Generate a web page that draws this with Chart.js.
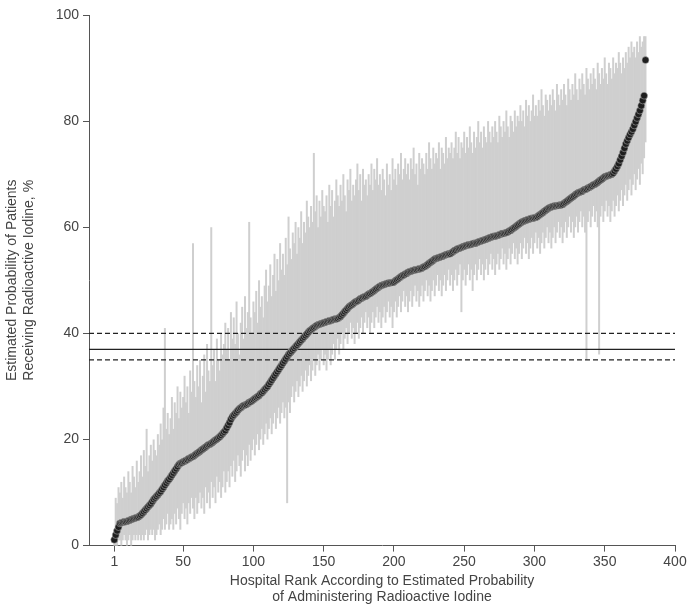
<!DOCTYPE html>
<html>
<head>
<meta charset="utf-8">
<script src="https://cdn.jsdelivr.net/npm/chart.js@4"></script>
<style>
  html, body { margin: 0; padding: 0; background: #fff; }
  #wrap { width: 691px; height: 612px; }
</style>
</head>
<body>
<div id="wrap"><canvas id="cv"></canvas></div>
<script>
'use strict';

// point estimates, hospital rank 1..379
var estimate = [
  1.1,2,2.8,3.5,4.2,4.3,4.4,4.5,4.5,4.6,
  4.7,4.8,4.9,5,5.1,5.2,5.3,5.4,5.6,5.8,
  6.1,6.4,6.7,7,7.3,7.6,7.9,8.3,8.7,9,
  9.3,9.6,9.9,10.2,10.6,11,11.4,11.8,12.2,12.5,
  12.9,13.3,13.7,14.1,14.5,14.9,15.3,15.5,15.6,15.8,
  15.9,16.1,16.2,16.4,16.5,16.7,16.8,17,17.2,17.4,
  17.6,17.8,18,18.2,18.4,18.6,18.8,19,19.1,19.3,
  19.5,19.7,19.9,20.1,20.3,20.5,20.8,21.1,21.4,21.7,
  22.2,22.7,23.2,23.8,24.3,24.6,24.9,25.2,25.5,25.8,
  26,26.2,26.4,26.5,26.6,26.8,27,27.1,27.3,27.5,
  27.7,27.9,28.1,28.3,28.6,28.8,29.1,29.4,29.7,30,
  30.4,30.8,31.2,31.6,32,32.4,32.8,33.2,33.6,34,
  34.4,34.8,35.2,35.6,36,36.3,36.6,36.9,37.2,37.5,
  37.8,38.1,38.4,38.7,39,39.3,39.6,39.9,40.2,40.5,
  40.7,40.9,41.1,41.3,41.5,41.6,41.7,41.8,41.9,42,
  42.1,42.2,42.3,42.4,42.4,42.5,42.6,42.7,42.7,42.8,
  43,43.2,43.5,43.8,44.1,44.4,44.7,45,45.2,45.4,
  45.6,45.8,46,46.1,46.3,46.5,46.6,46.8,46.9,47,
  47.2,47.4,47.5,47.7,47.9,48.1,48.3,48.5,48.7,48.9,
  49,49.1,49.2,49.3,49.4,49.5,49.5,49.6,49.6,49.7,
  49.9,50.1,50.3,50.5,50.7,50.9,51,51.2,51.3,51.5,
  51.6,51.7,51.8,51.9,52,52,52.1,52.2,52.2,52.3,
  52.5,52.6,52.8,53,53.2,53.4,53.6,53.8,54,54.1,
  54.2,54.3,54.4,54.5,54.6,54.7,54.8,54.9,55,55,
  55.2,55.4,55.6,55.7,55.9,56,56.1,56.2,56.3,56.4,
  56.5,56.6,56.7,56.7,56.8,56.9,57,57,57.1,57.2,
  57.3,57.4,57.5,57.6,57.7,57.8,57.9,58,58.1,58.2,
  58.3,58.3,58.4,58.5,58.6,58.7,58.8,58.8,58.9,59,
  59.1,59.3,59.4,59.6,59.8,60,60.2,60.4,60.6,60.8,
  61,61.1,61.2,61.3,61.4,61.5,61.6,61.7,61.7,61.8,
  61.9,62,62.2,62.4,62.6,62.8,63,63.2,63.4,63.6,
  63.7,63.8,63.9,64,64,64.1,64.1,64.2,64.2,64.3,
  64.5,64.7,64.9,65.1,65.3,65.5,65.7,65.9,66.1,66.3,
  66.5,66.6,66.7,66.8,67,67.1,67.2,67.4,67.5,67.7,
  67.8,68,68.1,68.3,68.5,68.7,68.9,69.1,69.3,69.5,
  69.6,69.7,69.8,69.9,70,70.2,70.6,71,71.5,72,
  72.7,73.4,74.1,74.9,75.7,76.3,76.9,77.5,78,78.5,
  79.2,79.9,80.6,81.3,82,82.9,83.9,84.8,91.5
];

var upper = [
  3,9,8,11,10,12,9,13,11,10, 14,12,10,15,13,11,16,12,14,17,
  13,18,15,22,14,17,19,16,20,18, 17,21,19,23,20,26,41,22,25,21,
  24,28,22,27,25,30,24,29,26,28, 32,27,30,25,33,29,57,31,28,34,
  30,35,27,32,36,29,38,33,31,60, 34,37,31,39,35,33,40,36,38,42,
  37,41,35,44,39,43,38,46,40,36, 42,45,39,47,41,44,61,43,40,46,
  44,48,42,50,45,47,43,49,52,46, 49,53,47,51,55,48,54,50,57,52,
  55,51,58,53,62,56,54,59,57,61, 55,60,58,63,57,61,59,65,62,60,
  64,61,74,63,66,60,65,62,67,64, 63,66,61,68,64,67,62,65,69,66,
  64,68,65,70,66,63,69,67,71,65, 68,66,69,72,67,70,65,71,68,69,
  66,70,68,72,67,71,69,73,68,70, 67,71,69,66,72,68,70,67,73,69,
  71,68,72,70,74,69,71,73,70,72, 69,73,71,75,70,72,68,74,71,73,
  72,70,74,71,76,73,71,75,72,74, 73,76,71,75,74,72,77,73,75,74,
  76,73,75,78,74,77,73,76,75,78, 74,77,75,79,76,74,78,75,77,80,
  76,78,75,79,77,76,80,78,76,79, 77,80,78,76,81,79,77,80,78,82,
  79,77,81,80,78,82,79,81,80,83, 80,82,79,84,81,83,80,82,85,81,
  83,81,84,82,86,83,81,85,84,82, 85,83,86,84,82,87,85,83,86,84,
  87,85,83,88,86,84,87,85,89,86, 84,88,86,89,87,85,90,88,86,89,
  87,90,88,86,91,89,87,90,88,92, 89,87,91,90,88,92,89,91,90,93,
  91,89,92,90,93,91,94,92,95,93, 94,92,95,93,96,94,95,96,96
];

var lower = [
  0,0,0,1,1,0,1,2,1,0, 1,2,0,1,2,1,2,1,2,1,
  2,1,2,3,1,2,3,2,3,1, 2,3,4,2,3,5,3,4,6,3,
  4,5,3,6,4,7,5,3,6,8, 5,7,4,8,6,9,7,5,9,6,
  8,10,7,9,6,11,8,10,7,12, 9,11,8,13,10,12,9,11,14,10,
  12,14,11,15,13,16,12,14,17,15, 13,16,18,14,17,15,19,16,18,20,
  17,19,21,18,20,22,19,21,23,20, 22,24,21,23,25,22,24,26,23,25,
  27,24,26,8,27,25,28,30,27,29, 31,28,30,32,29,31,33,30,32,34,
  31,33,35,32,34,36,33,35,37,34, 36,33,35,37,34,36,38,35,37,39,
  36,38,40,37,39,41,38,40,42,39, 41,38,40,42,39,41,43,40,42,44,
  41,43,40,42,44,41,43,45,42,44, 41,43,45,42,44,46,43,45,41,44,
  46,43,45,47,44,46,48,45,47,44, 46,48,45,47,49,46,48,45,47,49,
  46,48,50,47,49,46,48,50,47,49, 51,48,50,47,49,51,48,50,52,49,
  51,48,50,52,49,51,53,44,50,52, 49,51,53,50,52,48,51,53,50,52,
  54,51,53,50,52,54,51,53,55,52, 54,51,53,55,52,54,56,53,55,52,
  54,56,53,55,57,54,56,53,55,57, 54,56,58,55,57,54,56,58,55,57,
  59,56,58,55,57,59,56,58,60,57, 59,56,58,60,57,59,61,58,60,57,
  59,61,58,60,62,59,61,58,60,62, 59,61,63,60,62,59,35,61,63,60,
  62,64,61,63,60,36,62,64,61,63, 65,62,64,61,63,65,62,64,66,63,
  65,67,64,66,68,65,67,69,66,68, 70,67,69,71,68,72,70,73,76
];

var xTicks = [1, 50, 100, 150, 200, 250, 300, 350, 400];
var refLine = 37;
var refBand = [35, 40];

var points = estimate.map(function (v, i) { return { x: i + 1, y: v }; });

// gray interval bars + reference lines drawn through the chart scales
var intervalPlugin = {
  id: 'intervals',
  beforeDatasetsDraw: function (chart) {
    var ctx = chart.ctx, xs = chart.scales.x, ys = chart.scales.y, a = chart.chartArea;
    ctx.save();
    ctx.strokeStyle = '#cfcfcf';
    ctx.lineWidth = 2;
    for (var i = 0; i < estimate.length; i++) {
      var px = xs.getPixelForValue(i + 1);
      ctx.beginPath();
      ctx.moveTo(px, ys.getPixelForValue(lower[i]));
      ctx.lineTo(px, ys.getPixelForValue(upper[i]));
      ctx.stroke();
    }
    ctx.strokeStyle = '#222';
    ctx.lineWidth = 1.2;
    var y0 = ys.getPixelForValue(refLine);
    ctx.beginPath(); ctx.moveTo(a.left, y0); ctx.lineTo(a.right, y0); ctx.stroke();
    ctx.setLineDash([5, 3]);
    refBand.forEach(function (v) {
      var y = ys.getPixelForValue(v);
      ctx.beginPath(); ctx.moveTo(a.left, y); ctx.lineTo(a.right, y); ctx.stroke();
    });
    ctx.restore();
  }
};

var tickFont = { family: 'Helvetica, Arial, "Liberation Sans", sans-serif', size: 14 };

new Chart(document.getElementById('cv'), {
  type: 'scatter',
  data: {
    datasets: [{
      data: points,
      pointRadius: 3.5,
      pointBackgroundColor: '#1e1e1e',
      pointBorderColor: '#bbbbbb',
      pointBorderWidth: 0.5
    }]
  },
  plugins: [intervalPlugin],
  options: {
    responsive: true,
    maintainAspectRatio: false,
    animation: false,
    layout: { padding: { top: 15, right: 16, left: 4, bottom: 6 } },
    plugins: { legend: { display: false }, tooltip: { enabled: false } },
    scales: {
      x: {
        type: 'linear', min: -17, max: 400,
        afterBuildTicks: function (s) { s.ticks = xTicks.map(function (v) { return { value: v }; }); },
        grid: { drawOnChartArea: false, color: '#555', tickLength: 6 },
        border: { color: '#555' },
        ticks: { color: '#444', font: tickFont, padding: 2, maxRotation: 0 },
        title: {
          display: true, color: '#444', font: tickFont, padding: { top: 0, bottom: 0 },
          text: ['Hospital Rank According to Estimated Probability', 'of Administering Radioactive Iodine']
        }
      },
      y: {
        min: 0, max: 100,
        ticks: { stepSize: 20, color: '#444', font: tickFont, padding: 4 },
        grid: { drawOnChartArea: false, color: '#555', tickLength: 6 },
        border: { color: '#555' },
        afterFit: function (s) { s.width = 85; },
        title: {
          display: true, color: '#444', font: tickFont, padding: 0,
          text: ['Estimated Probability of Patients', 'Receiving Radioactive Iodine, %']
        }
      }
    }
  }
});
</script>
</body>
</html>
